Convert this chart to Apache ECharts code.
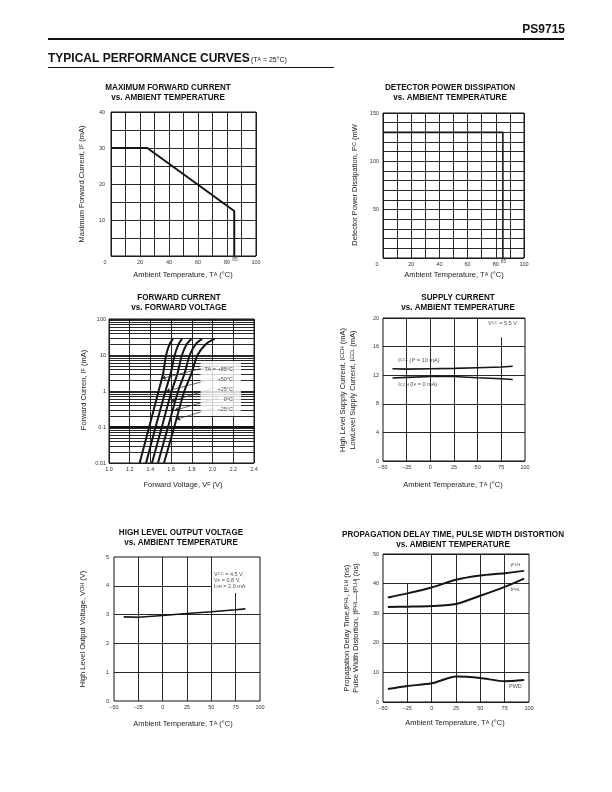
<!DOCTYPE html>
<html><head><meta charset="utf-8">
<script src="https://cdn.jsdelivr.net/npm/echarts@6/dist/echarts.min.js"></script>
<style>html,body{margin:0;padding:0;background:#fff}#c{width:612px;height:792px}</style>
</head><body><div id="c"></div>
<script>
// ---------- DATA ----------
// Chart 1: Maximum forward current vs ambient temperature
const c1Temp = [0, 25, 85, 85];
const c1Current = [30, 30, 12.5, 0];
const c1XTicks = [0, 20, 40, 60, 80, 100];
const c1YTicks = [10, 20, 30, 40];
// Chart 2: Detector power dissipation vs ambient temperature
const c2Temp = [0, 85, 85];
const c2Power = [130, 130, 0];
const c2XTicks = [0, 20, 40, 60, 80, 100];
const c2YTicks = [50, 100, 150];
// Chart 3: Forward current vs forward voltage
const c3Current = [0.01, 0.1, 1, 3, 10, 20, 28];
const c3V_p85 = [1.296, 1.388, 1.479, 1.522, 1.552, 1.585, 1.618];
const c3V_p50 = [1.358, 1.450, 1.545, 1.595, 1.635, 1.672, 1.705];
const c3V_p25 = [1.415, 1.510, 1.605, 1.660, 1.705, 1.750, 1.795];
const c3V_0   = [1.473, 1.570, 1.668, 1.728, 1.780, 1.838, 1.898];
const c3V_m25 = [1.531, 1.630, 1.728, 1.795, 1.855, 1.935, 2.020];
const c3Labels = ['TA = +85°C', '+50°C', '+25°C', '0°C', '–25°C'];
const c3YTicks = [100, 10, 1, 0.1, 0.01];
// Chart 4: Supply current vs ambient temperature
const c4Temp = [-40, -25, 0, 25, 50, 75, 87];
const c4ICCL = [12.9, 12.85, 12.9, 12.95, 13.05, 13.15, 13.25];
const c4ICCH = [11.6, 11.7, 11.82, 11.82, 11.65, 11.5, 11.4];
// Chart 5: High level output voltage vs ambient temperature
const c5Temp = [-40, -25, 0, 25, 50, 75, 85];
const c5VOH = [2.92, 2.91, 2.97, 3.04, 3.1, 3.17, 3.2];
// Chart 6: Propagation delay / pulse width distortion
const c6Temp = [-45, -25, 0, 25, 50, 75, 95];
const c6tPLH = [35.3, 36.7, 38.7, 41.3, 42.7, 43.5, 44.3];
const c6tPHL = [32.1, 32.2, 32.4, 33.1, 35.9, 38.9, 41.7];
const c6PWD = [4.4, 5.4, 6.3, 8.6, 8.1, 7.0, 7.4];
const tempTicks = [-50, -25, 0, 25, 50, 75, 100];

// ---------- STYLE HELPERS ----------
const FONT = '"Liberation Sans", Arial, sans-serif';
const INK = '#151515';
const GRIDC = '#111';
const tickStyle = {fontSize: 5.5, color: '#333', fontFamily: FONT};
const pair = (xs, ys) => xs.map((x, i) => [x, ys[i]]);
const pairYX = (ys, xs) => xs.map((x, i) => [x, ys[i]]);
const dash = v => (v < 0 ? '–' + Math.abs(v) : String(v));

const grids = [
  {left: 111, top: 112, width: 145, height: 144},
  {left: 383, top: 113, width: 141, height: 145},
  {left: 109, top: 319, width: 145, height: 144},
  {left: 383, top: 318, width: 142, height: 143},
  {left: 114, top: 557, width: 146, height: 144},
  {left: 383, top: 554, width: 146, height: 148}
].map(g => Object.assign(g, {show: true, borderColor: GRIDC, borderWidth: 1, backgroundColor: 'transparent'}));

const split = on => ({show: on, lineStyle: {color: GRIDC, width: 0.9}});
function xAx(i, min, max, interval, fmt, splitOn) {
  return {type: 'value', gridIndex: i, min, max, interval,
    axisLine: {show: false}, axisTick: {show: false}, splitLine: split(splitOn),
    axisLabel: Object.assign({margin: 3, formatter: fmt,
      rich: {z: Object.assign({padding: [0, 12, 0, 0]}, tickStyle)}}, tickStyle)};
}
function yAx(i, min, max, interval, fmt, splitOn, margin) {
  return {type: 'value', gridIndex: i, min, max, interval,
    axisLine: {show: false}, axisTick: {show: false}, splitLine: split(splitOn),
    axisLabel: Object.assign({margin: margin, formatter: fmt}, tickStyle)};
}
const only = (list, zeroShift) => v => {
  if (zeroShift && v === 0) return '{z|0}';
  return list.indexOf(v) >= 0 ? dash(v) : '';
};

const xAxes = [
  xAx(0, 0, 100, 10, only(c1XTicks, true), true),
  xAx(1, 0, 100, 10, only(c2XTicks, true), true),
  xAx(2, 1.0, 2.4, 0.2, v => v.toFixed(1), true),
  xAx(3, -50, 100, 25, only(tempTicks), false),
  xAx(4, -50, 100, 25, only(tempTicks), false),
  xAx(5, -50, 100, 25, only(tempTicks), false)
];
const yAxes = [
  yAx(0, 0, 40, 5, only(c1YTicks), true, 6),
  yAx(1, 0, 150, 10, only(c2YTicks), true, 4),
  {type: 'log', gridIndex: 2, min: 0.01, max: 100, logBase: 10,
    axisLine: {show: false}, axisTick: {show: false}, splitLine: split(true),
    axisLabel: Object.assign({margin: 3, formatter: v => {
      const n = Number(v.toPrecision(2));
      return c3YTicks.indexOf(n) >= 0 ? String(n) : '';
    }}, tickStyle)},
  yAx(3, 0, 20, 4, v => String(v), true, 4),
  yAx(4, 0, 5, 1, v => String(v), false, 5),
  yAx(5, 0, 50, 10, v => String(v), true, 4)
];

const curve = (i, data, w, extra) => Object.assign({type: 'line', xAxisIndex: i, yAxisIndex: i,
  data, symbol: 'none', silent: true, z: 3,
  lineStyle: {color: INK, width: w}}, extra || {});
const gridMarks = (segs) => ({silent: true, symbol: 'none', animation: false,
  label: {show: false}, lineStyle: {color: GRIDC, width: 0.9, type: 'solid'},
  emphasis: {disabled: true}, data: segs});
const vSeg = s => [{coord: [s[0], s[1]]}, {coord: [s[0], s[2]]}];
const hSeg = s => [{coord: [s[1], s[0]]}, {coord: [s[2], s[0]]}];
const textPts = (i, pts, labelOpts, z) => ({type: 'scatter', xAxisIndex: i, yAxisIndex: i,
  symbolSize: 0, silent: true, z: z || 6,
  data: pts.map(p => ({value: [p[0], p[1]], name: p[2]})),
  label: Object.assign({show: true, position: 'inside', formatter: '{b}',
    fontSize: 5.5, color: '#222', fontFamily: FONT,
    rich: {s: {fontSize: 4.2, color: '#222', fontFamily: FONT}}}, labelOpts)});

// gridline segments for partial grid lines (value, from, to)
const c4VGrid = [[-25, 0, 20], [0, 0, 20], [25, 0, 20], [50, 0, 20], [75, 0, 17.3]];
const c5VGrid = [[-25, 0, 5], [0, 0, 5], [25, 0, 5], [50, 0, 5], [75, 0, 3.75]];
const c5HGrid = [[1, -50, 100], [2, -50, 100], [3, -50, 100], [4, -50, 50]];
const c6VGrid = [[-25, 0, 40], [0, 0, 50], [25, 0, 50], [50, 0, 50], [75, 0, 50]];
const c3Minor = [];
[0.01, 0.1, 1, 10].forEach(d => { for (let k = 2; k <= 9; k++) c3Minor.push(Number((k * d).toPrecision(2))); });
const c3Heavy = [0.1];
// leader arrows chart 3: [labelX, labelY, curveX, curveY]
const c3Arrows = [[1.917, 4.4, 1.512, 2.23], [2.02, 2.23, 1.554, 0.99], [2.02, 1.22, 1.602, 0.52],
  [2.052, 0.64, 1.634, 0.29], [2.02, 0.34, 1.651, 0.164]];

const series = [
  curve(0, pair(c1Temp, c1Current), 2),
  textPts(0, [[85.5, 0, '85']], {position: 'bottom', distance: 1.5, fontSize: 5}),
  curve(1, pair(c2Temp, c2Power), 1.6),
  textPts(1, [[85.5, 0, '85']], {position: 'bottom', distance: 1.5, fontSize: 5}),
  curve(2, pairYX(c3Current, c3V_p85), 2, {smooth: 0.3,
    markLine: gridMarks(c3Minor.map(v => ({yAxis: v})).concat(
      c3Heavy.map(v => ({yAxis: v, lineStyle: {width: 2.2, color: GRIDC, type: 'solid'}}))))}),
  curve(2, pairYX(c3Current, c3V_p50), 2, {smooth: 0.3,
    markLine: {silent: true, animation: false, symbol: ['none', 'arrow'], symbolSize: 4,
      label: {show: false}, lineStyle: {color: '#222', width: 0.7, type: 'solid'},
      data: c3Arrows.map(a => [{coord: [a[0], a[1]]}, {coord: [a[2], a[3]]}])}}),
  curve(2, pairYX(c3Current, c3V_p25), 2, {smooth: 0.3}),
  curve(2, pairYX(c3Current, c3V_0), 2, {smooth: 0.3}),
  curve(2, pairYX(c3Current, c3V_m25), 2, {smooth: 0.3}),
  textPts(2, [[2.274, 1.17, c3Labels.join('\n')]], {position: 'inside', align: 'right',
    verticalAlign: 'middle', lineHeight: 10, backgroundColor: '#fff', padding: [3, 8, 2, 4]}, 8),
  curve(3, pair(c4Temp, c4ICCL), 1.6, {markLine: gridMarks(c4VGrid.map(vSeg))}),
  curve(3, pair(c4Temp, c4ICCH), 1.6),
  textPts(3, [[-34, 14.1, 'I{s|CCL} (I{s|F} = 10 mA)'], [-34, 10.7, 'I{s|CCH} (I{s|F} = 0 mA)'],
    [61, 19.26, 'V{s|CC} = 5.5 V']], {align: 'left', verticalAlign: 'middle'}),
  curve(4, pair(c5Temp, c5VOH), 1.6, {markLine: gridMarks(c5VGrid.map(vSeg).concat(c5HGrid.map(hSeg)))}),
  textPts(4, [[52.7, 4.18, 'V{s|CC} = 4.5 V,\nV{s|F} = 0.8 V,\nI{s|OH} = 2.0 mA']],
    {align: 'left', verticalAlign: 'middle', lineHeight: 6.3}),
  curve(5, pair(c6Temp, c6tPLH), 2, {smooth: 0.25, markLine: gridMarks(c6VGrid.map(vSeg))}),
  curve(5, pair(c6Temp, c6tPHL), 2, {smooth: 0.25}),
  curve(5, pair(c6Temp, c6PWD), 2, {smooth: 0.25}),
  textPts(5, [[86, 46.2, 't{s|PLH}'], [86, 37.9, 't{s|PHL}'], [86, 5.3, 'PWD']],
    {align: 'center', verticalAlign: 'middle'})
];

// ---------- TEXT / DECOR ----------
const g = [];
function txt(x, y, text, o) {
  o = o || {};
  g.push({type: 'text', x, y, rotation: o.rot || 0, scaleX: o.sx || 1, silent: true, z: 10,
    style: {text, fill: o.fill || '#111', fontSize: o.size || 7.5, fontFamily: FONT,
      fontWeight: o.bold ? 'bold' : 'normal', align: o.align || 'center', verticalAlign: 'middle',
      rich: {s: {fontSize: (o.size || 7.5) * 0.72, fontFamily: FONT, fill: o.fill || '#111'}}}});
}
function hline(x1, x2, y, w) {
  g.push({type: 'line', silent: true, shape: {x1, y1: y, x2, y2: y}, style: {stroke: '#111', lineWidth: w}});
}
txt(565, 30, 'PS9715', {bold: true, size: 12, align: 'right'});
hline(48, 564, 39, 2);
txt(48, 58.5, 'TYPICAL PERFORMANCE CURVES', {bold: true, size: 12, align: 'left'});
txt(251, 60, '(T{s|A} = 25°C)', {size: 7, align: 'left'});
hline(48, 334, 67.5, 1);

const titles = [
  [168, 88, 'MAXIMUM FORWARD CURRENT', 'vs. AMBIENT TEMPERATURE'],
  [450, 88, 'DETECTOR POWER DISSIPATION', 'vs. AMBIENT TEMPERATURE'],
  [179, 297.5, 'FORWARD CURRENT', 'vs. FORWARD VOLTAGE'],
  [458, 298, 'SUPPLY CURRENT', 'vs. AMBIENT TEMPERATURE'],
  [181, 533, 'HIGH LEVEL OUTPUT VOLTAGE', 'vs. AMBIENT TEMPERATURE'],
  [453, 534.5, 'PROPAGATION DELAY TIME, PULSE WIDTH DISTORTION', 'vs. AMBIENT TEMPERATURE']
];
titles.forEach(t => {
  txt(t[0], t[1], t[2], {bold: true, size: 9, sx: 0.9});
  txt(t[0], t[1] + 10, t[3], {bold: true, size: 9, sx: 0.9});
});
const amb = 'Ambient Temperature, T{s|A} (°C)';
[[183, 274.5, amb], [454, 275, amb], [183, 484.5, 'Forward Voltage, V{s|F} (V)'],
 [453, 484.5, amb], [183, 723.5, amb], [455, 723, amb]].forEach(a => txt(a[0], a[1], a[2], {fill: '#222'}));
const R = Math.PI / 2;
[[82, 184, 'Maximum Forward Current, I{s|F} (mA)'],
 [355, 185, 'Detector Power Dissipation, P{s|C} (mW'],
 [84, 390, 'Forward Curren, I{s|F} (mA)'],
 [343, 390, 'High Level Supply Current, I{s|CCH} (mA)'],
 [352.5, 390, 'LowLevel Supply Current, I{s|CCL} (mA)'],
 [83, 629, 'High Level Output Voltage, V{s|OH} (V)'],
 [346.5, 628, 'Propagation Delay Time,t{s|PHL}, t{s|PLH} (ns)'],
 [356, 628, 'Pulse Width Distortion, |t{s|PHL}—t{s|PLH}| (ns)']
].forEach(a => txt(a[0], a[1], a[2], {rot: R, fill: '#222'}));

const chart = echarts.init(document.getElementById('c'), null, {renderer: 'canvas'});
chart.setOption({
  animation: false,
  backgroundColor: '#fff',
  textStyle: {fontFamily: FONT},
  grid: grids,
  xAxis: xAxes,
  yAxis: yAxes,
  series: series,
  graphic: g
});
</script></body></html>
